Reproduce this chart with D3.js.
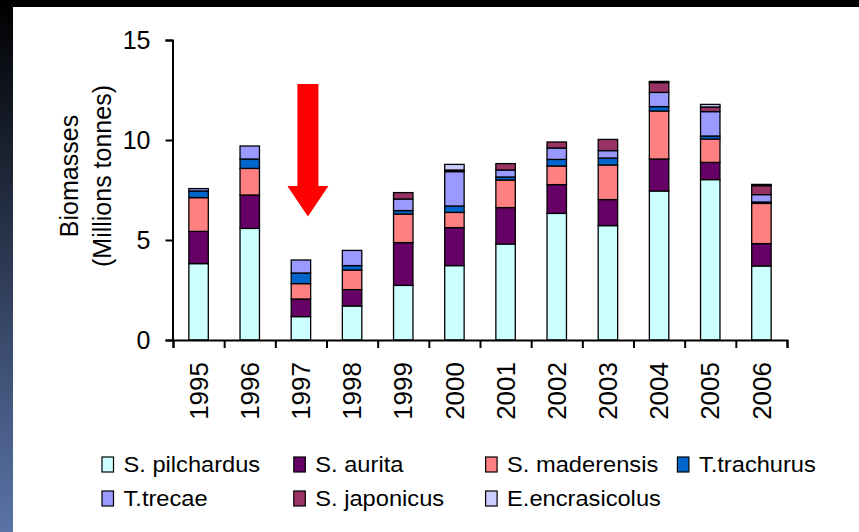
<!DOCTYPE html>
<html>
<head>
<meta charset="utf-8">
<script src="https://cdn.jsdelivr.net/npm/d3@7"></script>
<style>
  body { margin: 0; background: #000; }
  text { font-family: "Liberation Sans", Arial, sans-serif; fill: #000; }
</style>
</head>
<body>
<svg id="chart" width="859" height="532"></svg>
<script>
// years and species
let years = ["1995", "1996", "1997", "1998", "1999", "2000", "2001", "2002", "2003", "2004", "2005", "2006"];
let species = ["S. pilchardus", "S. aurita", "S. maderensis", "T.trachurus", "T.trecae", "S. japonicus", "E.encrasicolus"];
let colors = ["#ccffff", "#660066", "#ff8080", "#0066cc", "#9999ff", "#993366", "#ccccff"];

// biomasses (millions tonnes)
let pilchardus   = [3.82, 5.58, 1.17, 1.70, 2.73, 3.72, 4.80, 6.33, 5.72, 7.45, 8.02, 3.70];
let aurita       = [1.61, 1.67, 0.88, 0.82, 2.14, 1.90, 1.82, 1.44, 1.30, 1.60, 0.86, 1.12];
let maderensis   = [1.69, 1.33, 0.77, 0.98, 1.43, 0.76, 1.38, 0.93, 1.73, 2.40, 1.17, 2.01];
let trachurus    = [0.33, 0.47, 0.53, 0.22, 0.17, 0.32, 0.15, 0.33, 0.35, 0.22, 0.15, 0.07];
let trecae       = [0.12, 0.65, 0.65, 0.76, 0.58, 1.72, 0.35, 0.57, 0.37, 0.71, 1.22, 0.37];
let japonicus    = [0, 0, 0, 0, 0.32, 0.08, 0.32, 0.30, 0.56, 0.49, 0.23, 0.45];
let encrasicolus = [0, 0, 0, 0, 0, 0.28, 0, 0, 0, 0.06, 0.13, 0.06];

let yTicks = [0, 5, 10, 15];

let series = [pilchardus, aurita, maderensis, trachurus, trecae, japonicus, encrasicolus];
let table = years.map(function(yr, i) {
  let row = {year: yr};
  species.forEach(function(s, j) { row[s] = series[j][i]; });
  return row;
});

let svg = d3.select("#chart");

// slide background: black top, dark-to-blue strip on the left, white panel
let grad = svg.append("defs").append("linearGradient")
    .attr("id", "side").attr("x1", 0).attr("y1", 0).attr("x2", 0).attr("y2", 1);
grad.append("stop").attr("offset", "0%").attr("stop-color", "#000");
grad.append("stop").attr("offset", "100%").attr("stop-color", "#5a74a8");
svg.append("rect").attr("width", 859).attr("height", 532).attr("fill", "#000");
svg.append("rect").attr("x", 0).attr("y", 0).attr("width", 13).attr("height", 532).attr("fill", "url(#side)");
svg.append("rect").attr("x", 13).attr("y", 7).attr("width", 846).attr("height", 525).attr("fill", "#fff");

// scales
let x = d3.scaleBand().domain(years).range([173, 787]).paddingInner(0.62).paddingOuter(0.31);
let xEdge = d3.scaleLinear().domain([0, years.length]).range([173, 787]);
let y = d3.scaleLinear().domain([0, 15]).range([340, 40]);

let stacked = d3.stack().keys(species)(table);

// bars
svg.append("g").selectAll("g")
  .data(stacked)
  .join("g")
    .attr("fill", function(d, i) { return colors[i]; })
  .selectAll("rect")
  .data(function(d) { return d.filter(function(p) { return p[1] - p[0] > 0; }); })
  .join("rect")
    .attr("x", function(d) { return x(d.data.year); })
    .attr("width", x.bandwidth())
    .attr("y", function(d) { return y(d[1]); })
    .attr("height", function(d) { return y(d[0]) - y(d[1]); })
    .attr("stroke", "#000")
    .attr("stroke-width", 1.3);

// y axis
let yAxis = svg.append("g")
    .attr("transform", "translate(172.5,0)")
    .call(d3.axisLeft(y).tickValues(yTicks).tickSize(7).tickPadding(15));
yAxis.selectAll("text").style("font-size", "25px").style("font-family", "Liberation Sans, Arial, sans-serif");

// x axis: ticks at the category boundaries, labels rotated
let xAxis = svg.append("g")
    .attr("transform", "translate(0,340)")
    .call(d3.axisBottom(xEdge).tickValues(d3.range(years.length + 1)).tickFormat("").tickSize(8));
let xLabels = svg.append("g")
    .attr("transform", "translate(0,340)")
    .call(d3.axisBottom(x).tickSize(0));
xLabels.select(".domain").remove();
xLabels.selectAll("text")
    .style("font-size", "26px")
    .style("font-family", "Liberation Sans, Arial, sans-serif")
    .style("text-anchor", "end")
    .attr("transform", "rotate(-90)")
    .attr("x", -22)
    .attr("y", 0)
    .attr("dy", "0.35em");

svg.selectAll(".domain, .tick line").attr("stroke", "#000").attr("stroke-width", 2);

// y axis title
let yTitle = svg.append("text")
    .attr("transform", "translate(78,176) rotate(-90)")
    .style("font-size", "25px")
    .style("text-anchor", "middle");
yTitle.append("tspan").attr("x", 0).attr("dy", 0).text("Biomasses");
yTitle.append("tspan").attr("x", 0).attr("dy", 32.5).text("(Millions tonnes)");

// red arrow over 1997
let ax = x("1997") + x.bandwidth() / 2 + 7;
let arrow = [
  [ax - 10.5, y(12.8)], [ax + 10.5, y(12.8)], [ax + 10.5, y(7.7)], [ax + 20.5, y(7.7)],
  [ax, y(6.17)], [ax - 20.5, y(7.7)], [ax - 10.5, y(7.7)]
];
svg.append("path")
    .attr("d", d3.line()(arrow) + "Z")
    .attr("fill", "#ff0000");

// legend
let legend = svg.append("g").selectAll("g")
  .data(species)
  .join("g")
    .attr("transform", function(d, i) {
      return "translate(" + (102 + (i % 4) * 191.8) + "," + (457 + Math.floor(i / 4) * 34) + ")";
    });
legend.append("rect")
    .attr("width", 11.5).attr("height", 15)
    .attr("fill", function(d, i) { return colors[i]; })
    .attr("stroke", "#000").attr("stroke-width", 1.2);
legend.append("text")
    .attr("transform", "translate(21.5,15) scale(1.1,1)")
    .style("font-size", "21.5px")
    .text(function(d) { return d; });
</script>
</body>
</html>
